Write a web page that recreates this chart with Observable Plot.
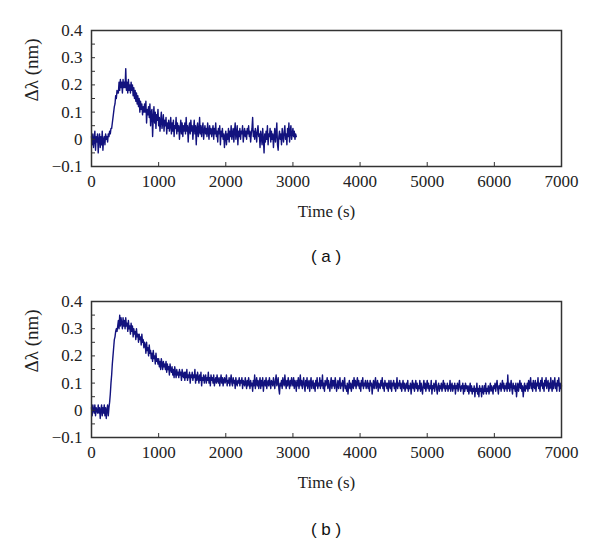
<!DOCTYPE html>
<html>
<head>
<meta charset="utf-8">
<script src="https://cdn.jsdelivr.net/npm/d3@7"></script>
<script src="https://cdn.jsdelivr.net/npm/@observablehq/plot@0.6"></script>
<style>
  body { margin: 0; background: #fff; }
  #wrap { position: relative; width: 600px; height: 547px; }
  .panel { position: absolute; left: 0; }
  .panel svg text { font-family: "Liberation Serif", "Times New Roman", serif; }
  .cap { position: absolute; left: 0; width: 652px; text-align: center; font-family: "Liberation Sans", Arial, sans-serif; font-size: 17px; color: #111; }
</style>
</head>
<body>
<div id="wrap">
  <div id="pa" class="panel" style="top:0px"></div>
  <div class="cap" style="top:247px">( a )</div>
  <div id="pb" class="panel" style="top:271px"></div>
  <div class="cap" style="top:520px">( b )</div>
</div>
<script>
// Panel (a): one reading every 10 s, from 0 s to 3050 s
const timeStepA = 10;
const valuesA = [
  0.01, -0.02, 0.02, -0.03, 0.00, 0.03, -0.04, 0.01, -0.01, 0.02,
  -0.05, 0.00, 0.02, -0.03, 0.01, -0.02, 0.03, -0.04, 0.00, 0.01,
  -0.02, 0.02, 0.00, 0.01, -0.01, 0.02, 0.01, 0.03, 0.02, 0.04,
  0.04, 0.06, 0.08, 0.10, 0.12, 0.13, 0.16, 0.15, 0.18, 0.17,
  0.17, 0.21, 0.18, 0.22, 0.19, 0.21, 0.17, 0.22, 0.19, 0.21,
  0.19, 0.26, 0.18, 0.21, 0.17, 0.22, 0.18, 0.20, 0.17, 0.21,
  0.18, 0.20, 0.16, 0.19, 0.15, 0.18, 0.14, 0.17, 0.13, 0.16,
  0.12, 0.15, 0.10, 0.14, 0.11, 0.13, 0.09, 0.12, 0.10, 0.13,
  0.10, 0.14, 0.06, 0.11, 0.09, 0.12, 0.08, 0.13, 0.05, 0.10,
  0.11, 0.01, 0.08, 0.12, 0.06, 0.10, 0.04, 0.09, 0.07, 0.11,
  0.05, 0.08, 0.03, 0.07, 0.10, 0.04, 0.06, 0.09, 0.03, 0.07,
  0.05, 0.08, 0.02, 0.06, 0.04, 0.07, 0.03, 0.05, 0.08, 0.02,
  0.06, 0.03, 0.07, 0.01, 0.05, 0.04, 0.08, 0.02, 0.06, 0.03,
  0.05, 0.00, 0.04, 0.07, 0.02, 0.06, 0.01, 0.05, 0.03, 0.06,
  0.02, 0.08, 0.03, 0.05, -0.01, 0.04, 0.06, 0.02, 0.07, 0.03,
  0.05, 0.00, 0.04, 0.07, 0.02, 0.05, -0.02, 0.04, 0.06, 0.01,
  0.03, 0.08, 0.02, 0.05, 0.01, 0.04, 0.06, 0.00, 0.03, 0.05,
  0.02, 0.04, 0.01, 0.06, 0.03, 0.00, 0.05, 0.02, 0.04, 0.01,
  0.03, 0.05, 0.00, 0.04, 0.02, 0.06, 0.01, 0.03, -0.01, 0.04,
  0.02, 0.05, -0.02, 0.03, 0.01, 0.04, 0.00, 0.02, -0.03, 0.01,
  0.03, -0.02, 0.02, 0.00, 0.04, -0.01, 0.03, 0.01, 0.05, 0.00,
  0.02, 0.04, -0.01, 0.03, 0.06, 0.00, 0.02, 0.05, -0.02, 0.03,
  0.01, 0.04, 0.00, 0.03, 0.02, 0.05, -0.01, 0.02, 0.04, 0.01,
  0.03, 0.00, 0.04, 0.02, 0.05, 0.01, 0.03, -0.01, 0.02, 0.04,
  0.08, 0.01, 0.03, 0.00, 0.04, 0.02, -0.01, 0.03, 0.05, 0.01,
  0.02, -0.03, 0.03, 0.01, -0.02, 0.04, 0.00, -0.05, 0.02, -0.01,
  0.03, 0.00, 0.05, -0.02, 0.02, 0.01, 0.04, -0.01, 0.03, 0.00,
  0.02, -0.03, 0.01, 0.04, -0.01, 0.02, 0.06, -0.02, -0.04, 0.01,
  0.03, 0.00, 0.02, -0.02, 0.04, 0.01, -0.01, 0.03, 0.05, 0.00,
  0.02, -0.02, 0.04, 0.01, 0.06, -0.01, 0.03, 0.05, 0.00, 0.02,
  0.04, 0.01, 0.03, 0.00, 0.02, 0.01
];

// Panel (b): one reading every 10 s, from 0 s to 7000 s
const timeStepB = 10;
const valuesB = [
  0.01, -0.02, 0.02, 0.00, -0.01, 0.02, -0.02, 0.01, 0.00, -0.01,
  0.02, -0.01, 0.01, -0.03, 0.00, 0.02, -0.02, 0.01, -0.01, 0.02,
  -0.02, 0.01, -0.03, 0.00, 0.02, -0.02, 0.01, 0.03, 0.06, 0.10,
  0.13, 0.17, 0.20, 0.23, 0.26, 0.27, 0.29, 0.30, 0.29, 0.31,
  0.33, 0.30, 0.35, 0.31, 0.34, 0.32, 0.30, 0.34, 0.31, 0.33,
  0.30, 0.34, 0.31, 0.32, 0.29, 0.33, 0.30, 0.31, 0.28, 0.32,
  0.29, 0.31, 0.27, 0.30, 0.28, 0.29, 0.26, 0.30, 0.27, 0.28,
  0.25, 0.28, 0.26, 0.27, 0.24, 0.28, 0.25, 0.26, 0.23, 0.25,
  0.24, 0.21, 0.25, 0.22, 0.23, 0.20, 0.24, 0.21, 0.22, 0.19,
  0.21, 0.18, 0.22, 0.19, 0.20, 0.17, 0.21, 0.18, 0.19, 0.17,
  0.19, 0.16, 0.18, 0.15, 0.19, 0.17, 0.15, 0.18, 0.16, 0.17,
  0.15, 0.18, 0.14, 0.17, 0.15, 0.16, 0.13, 0.17, 0.15, 0.14,
  0.16, 0.13, 0.15, 0.12, 0.16, 0.14, 0.12, 0.15, 0.13, 0.14,
  0.12, 0.15, 0.13, 0.14, 0.11, 0.15, 0.13, 0.12, 0.14, 0.11,
  0.14, 0.12, 0.15, 0.11, 0.13, 0.12, 0.14, 0.10, 0.13, 0.12,
  0.14, 0.11, 0.13, 0.12, 0.15, 0.10, 0.13, 0.11, 0.14, 0.12,
  0.10, 0.13, 0.11, 0.14, 0.09, 0.12, 0.11, 0.13, 0.10, 0.12,
  0.13, 0.10, 0.12, 0.11, 0.14, 0.10, 0.12, 0.09, 0.13, 0.11,
  0.12, 0.10, 0.13, 0.09, 0.11, 0.12, 0.10, 0.13, 0.11, 0.10,
  0.12, 0.09, 0.11, 0.13, 0.10, 0.12, 0.09, 0.11, 0.12, 0.10,
  0.11, 0.13, 0.09, 0.11, 0.10, 0.12, 0.09, 0.11, 0.13, 0.10,
  0.09, 0.12, 0.10, 0.11, 0.08, 0.12, 0.10, 0.09, 0.11, 0.10,
  0.12, 0.09, 0.11, 0.10, 0.12, 0.08, 0.11, 0.10, 0.09, 0.12,
  0.10, 0.08, 0.11, 0.09, 0.12, 0.10, 0.08, 0.11, 0.09, 0.10,
  0.07, 0.11, 0.09, 0.13, 0.08, 0.10, 0.12, 0.09, 0.11, 0.08,
  0.10, 0.12, 0.08, 0.11, 0.09, 0.12, 0.07, 0.10, 0.11, 0.09,
  0.12, 0.08, 0.10, 0.11, 0.09, 0.12, 0.10, 0.08, 0.11, 0.10,
  0.09, 0.12, 0.10, 0.08, 0.11, 0.13, 0.09, 0.10, 0.12, 0.08,
  0.06, 0.10, 0.09, 0.11, 0.08, 0.12, 0.10, 0.09, 0.13, 0.10,
  0.08, 0.11, 0.09, 0.12, 0.10, 0.08, 0.11, 0.09, 0.12, 0.10,
  0.09, 0.12, 0.08, 0.11, 0.10, 0.07, 0.11, 0.09, 0.12, 0.08,
  0.10, 0.13, 0.09, 0.11, 0.08, 0.10, 0.12, 0.09, 0.07, 0.11,
  0.09, 0.12, 0.08, 0.10, 0.11, 0.07, 0.10, 0.12, 0.08, 0.10,
  0.11, 0.08, 0.10, 0.07, 0.11, 0.09, 0.12, 0.08, 0.10, 0.09,
  0.12, 0.08, 0.11, 0.09, 0.13, 0.08, 0.10, 0.07, 0.11, 0.09,
  0.10, 0.12, 0.08, 0.11, 0.09, 0.07, 0.10, 0.12, 0.08, 0.11,
  0.09, 0.11, 0.08, 0.12, 0.10, 0.07, 0.09, 0.11, 0.08, 0.10,
  0.12, 0.08, 0.10, 0.09, 0.11, 0.07, 0.10, 0.12, 0.08, 0.09,
  0.07, 0.10, 0.06, 0.09, 0.11, 0.08, 0.10, 0.07, 0.09, 0.11,
  0.08, 0.12, 0.09, 0.11, 0.08, 0.10, 0.12, 0.09, 0.11, 0.08,
  0.10, 0.07, 0.11, 0.09, 0.12, 0.08, 0.10, 0.09, 0.11, 0.08,
  0.09, 0.11, 0.08, 0.10, 0.07, 0.11, 0.09, 0.10, 0.06, 0.09,
  0.11, 0.08, 0.10, 0.12, 0.08, 0.09, 0.11, 0.07, 0.10, 0.09,
  0.08, 0.11, 0.09, 0.12, 0.08, 0.10, 0.07, 0.11, 0.09, 0.10,
  0.08, 0.10, 0.07, 0.11, 0.09, 0.08, 0.11, 0.07, 0.10, 0.09,
  0.11, 0.08, 0.10, 0.07, 0.09, 0.12, 0.08, 0.10, 0.09, 0.11,
  0.08, 0.10, 0.07, 0.09, 0.11, 0.08, 0.10, 0.07, 0.09, 0.10,
  0.08, 0.11, 0.07, 0.09, 0.08, 0.10, 0.06, 0.09, 0.11, 0.08,
  0.10, 0.07, 0.09, 0.11, 0.08, 0.10, 0.07, 0.09, 0.08, 0.11,
  0.07, 0.10, 0.08, 0.06, 0.09, 0.11, 0.08, 0.10, 0.07, 0.09,
  0.11, 0.08, 0.10, 0.07, 0.09, 0.08, 0.11, 0.06, 0.09, 0.08,
  0.10, 0.07, 0.09, 0.11, 0.08, 0.06, 0.09, 0.10, 0.07, 0.09,
  0.08, 0.10, 0.07, 0.09, 0.11, 0.08, 0.10, 0.07, 0.09, 0.08,
  0.10, 0.07, 0.09, 0.08, 0.11, 0.07, 0.09, 0.10, 0.07, 0.09,
  0.08, 0.10, 0.06, 0.09, 0.08, 0.10, 0.07, 0.09, 0.11, 0.08,
  0.07, 0.09, 0.08, 0.10, 0.06, 0.09, 0.07, 0.10, 0.08, 0.09,
  0.07, 0.09, 0.06, 0.08, 0.10, 0.07, 0.09, 0.06, 0.08, 0.07,
  0.09, 0.05, 0.08, 0.07, 0.10, 0.06, 0.08, 0.05, 0.09, 0.07,
  0.08, 0.05, 0.09, 0.07, 0.06, 0.09, 0.07, 0.10, 0.06, 0.08,
  0.07, 0.09, 0.06, 0.08, 0.10, 0.07, 0.09, 0.08, 0.06, 0.09,
  0.08, 0.10, 0.07, 0.09, 0.11, 0.08, 0.06, 0.09, 0.08, 0.10,
  0.07, 0.09, 0.11, 0.08, 0.10, 0.07, 0.09, 0.08, 0.10, 0.07,
  0.13, 0.08, 0.10, 0.07, 0.09, 0.11, 0.08, 0.06, 0.10, 0.08,
  0.09, 0.07, 0.10, 0.05, 0.08, 0.10, 0.07, 0.09, 0.11, 0.08,
  0.10, 0.07, 0.09, 0.05, 0.08, 0.10, 0.07, 0.09, 0.08, 0.10,
  0.07, 0.11, 0.08, 0.10, 0.12, 0.08, 0.10, 0.07, 0.11, 0.09,
  0.08, 0.11, 0.07, 0.10, 0.09, 0.12, 0.08, 0.10, 0.07, 0.11,
  0.09, 0.12, 0.08, 0.10, 0.07, 0.11, 0.09, 0.12, 0.08, 0.10,
  0.11, 0.07, 0.10, 0.08, 0.12, 0.09, 0.07, 0.11, 0.08, 0.10,
  0.12, 0.08, 0.10, 0.07, 0.11, 0.09, 0.12, 0.07, 0.10, 0.08,
  0.09
];

const xDomain = [0, 7000];
const yDomain = [-0.1, 0.4];
const xTickLabels = [0, 1000, 2000, 3000, 4000, 5000, 6000, 7000];
const xTickMarks = [1000, 2000, 3000, 4000, 5000, 6000];
const yTickLabels = [-0.1, 0, 0.1, 0.2, 0.3, 0.4];
const yTickMarks = [-0.05, 0, 0.05, 0.1, 0.15, 0.2, 0.25, 0.3, 0.35];
const xTitle = "Time (s)";
const yTitle = "Δλ (nm)";

const serif = "'Liberation Serif', 'Times New Roman', serif";
const lineColor = "#12127e";
const fmtY = d => d === 0 ? "0" : (d < 0 ? "\u2212" + Math.abs(d).toFixed(1) : d.toFixed(1));

function panel(values, step) {
  const data = values.map((v, i) => ({t: i * step, v}));
  return Plot.plot({
    width: 600,
    height: 220,
    marginTop: 30,
    marginBottom: 54,
    marginLeft: 91,
    marginRight: 39,
    x: {domain: xDomain},
    y: {domain: yDomain},
    style: {fontFamily: serif, fontSize: "17px", color: "#222", background: "#fff"},
    marks: [
      Plot.line(data, {x: "t", y: "v", stroke: lineColor, strokeWidth: 1.4}),
      Plot.axisX(xTickMarks, {tickSize: -4, tickFormat: () => "", label: null, stroke: "#333"}),
      Plot.axisX(xTickLabels, {tickSize: 0, tickPadding: 8, tickFormat: d => String(d), label: null, fontFamily: serif, fontSize: 17}),
      Plot.axisY(yTickMarks, {tickSize: -4, tickFormat: () => "", label: null, stroke: "#333"}),
      Plot.axisY(yTickLabels, {tickSize: 0, tickPadding: 9, tickFormat: fmtY, label: null, fontFamily: serif, fontSize: 17}),
      Plot.frame({stroke: "#333", strokeWidth: 1.5}),
      Plot.text([xTitle], {frameAnchor: "bottom", text: d => d, dy: 45, lineAnchor: "middle", fontSize: 17, fontFamily: serif}),
      Plot.text([yTitle], {frameAnchor: "left", text: d => d, rotate: -90, dx: -60, dy: 3, lineAnchor: "middle", fontSize: 19, fontFamily: serif})
    ]
  });
}

document.getElementById("pa").appendChild(panel(valuesA, timeStepA));
document.getElementById("pb").appendChild(panel(valuesB, timeStepB));
</script>
</body>
</html>
